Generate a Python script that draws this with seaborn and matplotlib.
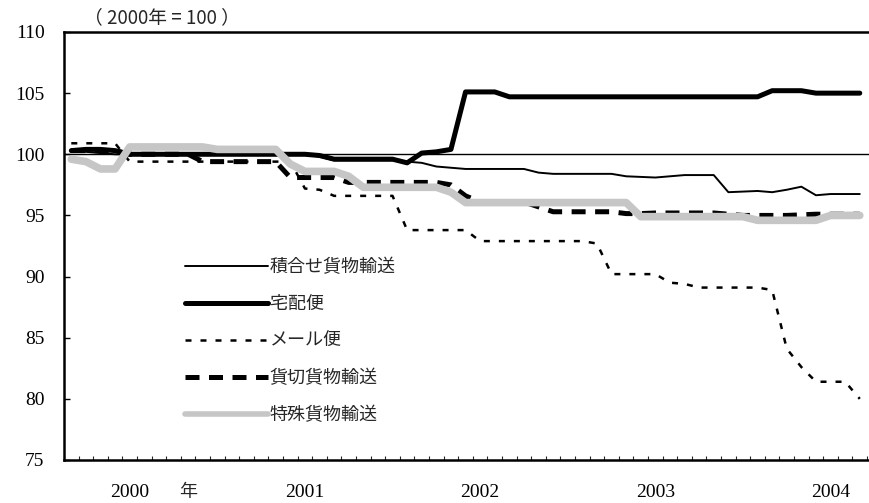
import numpy as np
import pandas as pd
import matplotlib
matplotlib.use("Agg")
import matplotlib.pyplot as plt
import seaborn as sns

# monthly index, 2000 average = 100
months = list(range(55))
year_labels = ["2000", "2001", "2002", "2003", "2004"]
year_pos = [4, 16, 28, 40, 52]

tsumiawase = ([100.2, 100.2, 100.1] + [100.0] * 14 + [99.8] + [99.5] * 5 + [99.4, 99.3, 99.0, 98.9]
              + [98.8] * 5 + [98.5] + [98.4] * 5 + [98.2, 98.15, 98.1, 98.2] + [98.3] * 3
              + [96.9, 96.95, 97.0, 96.9, 97.1, 97.35, 96.65] + [96.75] * 3)
takuhai = ([100.3, 100.4, 100.4, 100.3] + [100.0] * 13 + [99.9] + [99.6] * 5 + [99.3, 100.1, 100.2, 100.4]
           + [105.1] * 3 + [104.7] * 18 + [105.2] * 3 + [105.0] * 4)
mail = ([100.9] * 4 + [99.4] * 12 + [97.2, 97.1] + [96.6] * 5 + [93.8] * 5 + [92.9] * 8 + [92.7]
        + [90.2] * 4 + [89.5, 89.4] + [89.1] * 5 + [88.9, 84.1, 82.6] + [81.4] * 3 + [80.0])
kashikiri = ([100.3] * 4 + [100.0] * 5 + [99.4] * 6 + [98.1] * 4 + [97.7] * 7 + [97.5, 96.6]
             + [96.1] * 4 + [95.7] + [95.3] * 5 + [95.15] * 2 + [95.2] * 5 + [95.1] + [95.0] * 4
             + [95.05] + [95.1] * 4)
tokushu = ([99.6, 99.4, 98.8, 98.8] + [100.6] * 6 + [100.4] * 5 + [99.2] + [98.6] * 3 + [98.2]
           + [97.3] * 6 + [96.9] + [96.05] * 12 + [94.9] * 8 + [94.6] * 5 + [95.0] * 3)

names = ["積合せ貨物輸送", "宅配便", "メール便", "貨切貨物輸送", "特殊貨物輸送"]

sns.set_style("white")
plt.rcParams['font.family'] = ['Noto Sans CJK JP', 'DejaVu Sans']

fig = plt.figure(figsize=(8.7, 5.03), dpi=100)
ax = fig.add_axes([64 / 870, 43 / 503, 1 - 64 / 870, 428 / 503])

ax.axhline(100, color="black", lw=1.0, zorder=1)

styles = [
    dict(color="black", lw=1.4, linestyle="-"),
    dict(color="black", lw=3.6, linestyle="-"),
    dict(color="black", lw=1.8, linestyle=(0, (2.4, 3.6))),
    dict(color="black", lw=3.6, linestyle=(0, (2.8, 1.9))),
    dict(color="#c6c6c6", lw=5.5, linestyle="-"),
]
for name, vals, st in zip(names, [tsumiawase, takuhai, mail, kashikiri, tokushu], styles):
    sns.lineplot(x=months, y=vals, ax=ax, label=name, **st)

ax.set_xlim(-0.5, 54.7)
ax.set_ylim(75, 110)
ax.set_yticks(range(75, 111, 5))
ax.set_xticks(year_pos)
ax.set_xticklabels(year_labels)
ax.set_xticks(np.arange(-0.5, 55, 1), minor=True)
ax.set_xlabel("")
ax.set_ylabel("")

ax.tick_params(axis="both", labelfontfamily="Liberation Serif", labelsize=14)
ax.tick_params(axis="y", direction="in", length=4.5, width=1, pad=14, colors="black", left=True)
ax.tick_params(axis="x", which="major", length=0, pad=17, colors="black")
ax.tick_params(axis="x", which="minor", direction="in", length=3, width=0.8, bottom=True)

for s in ["left", "bottom", "top"]:
    ax.spines[s].set_linewidth(1.8)
    ax.spines[s].set_color("black")
ax.spines["right"].set_visible(False)

ax.text(8, -0.075, "年", transform=ax.get_xaxis_transform(), ha="center", va="center", fontsize=13)
fig.text(162 / 870, 1 - 18 / 503, "（ 2000年 = 100 ）", ha="center", va="center", fontsize=13.5)

leg = ax.legend(loc="upper left", bbox_to_anchor=(185 / 870, 1 - 258 / 503), bbox_transform=fig.transFigure,
                frameon=False, fontsize=13, handlelength=4.6, handletextpad=0.1, labelspacing=1.05,
                borderpad=0, borderaxespad=0)
for h in leg.get_lines():
    if h.get_color() == "#c6c6c6":
        h.set_linewidth(4)

fig.savefig("out.png", dpi=100)
